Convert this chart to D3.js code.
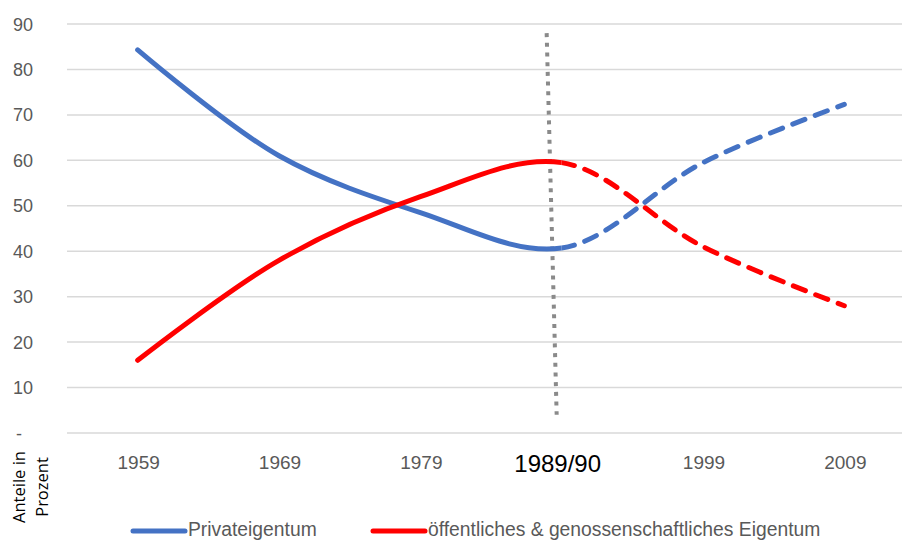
<!DOCTYPE html>
<html>
<head>
<meta charset="utf-8">
<script src="https://cdn.jsdelivr.net/npm/d3@7"></script>
<style>
  body { margin: 0; background: #fff; }
  svg { display: block; }
</style>
</head>
<body>
<div class="content"></div>
<script>
var years = ['1959', '1969', '1979', '1989/90', '1999', '2009'];
var privat = [84.3, 61, 48.5, 40.7, 59.5, 72.3];
var oeffentlich = [16, 38, 52, 59.5, 41, 28];
var yTicks = [0, 10, 20, 30, 40, 50, 60, 70, 80, 90];
var seriesNames = ['Privateigentum', 'öffentliches & genossenschaftliches Eigentum'];
var splitYear = '1989/90';
var divider = { top: 88, bottom: 4 };

var chart = {
    width: 902,
    height: 542,
    left: 67,
    right: 915,
    top: 24,
    bottom: 433,
    blue: '#4472C4',
    red: '#FF0000',
    grid: '#d9d9d9',
    text: '#595959'
};

var svg = d3.select('.content').append('svg')
    .attr('width', chart.width)
    .attr('height', chart.height);

var x = d3.scaleBand().domain(years).range([chart.left, chart.right]);
var y = d3.scaleLinear().domain([0, 90]).range([chart.bottom, chart.top]);
var cx = function(d) { return x(d) + x.bandwidth() / 2; };

// gridlines
svg.append('g').selectAll('line').data(yTicks).enter().append('line')
    .attr('x1', chart.left).attr('x2', chart.width)
    .attr('y1', function(d) { return y(d); })
    .attr('y2', function(d) { return y(d); })
    .style('stroke', chart.grid)
    .style('stroke-width', 1.5);

// y tick labels (0 shown as "-", accounting style)
svg.append('g').selectAll('text').data(yTicks).enter().append('text')
    .attr('x', function(d) { return d === 0 ? 22 : 33; })
    .attr('y', function(d) { return y(d) + 6.5; })
    .attr('text-anchor', 'end')
    .style('font-family', '"Liberation Sans", Arial, sans-serif')
    .style('font-size', '18px')
    .style('fill', chart.text)
    .text(function(d) { return d === 0 ? '-' : d; });

// x tick labels
svg.append('g').selectAll('text').data(years).enter().append('text')
    .attr('x', function(d) { return cx(d) + (d === splitYear ? -4 : 1); })
    .attr('y', function(d) { return d === splitYear ? 472 : 469; })
    .attr('text-anchor', 'middle')
    .style('font-family', '"Liberation Sans", Arial, sans-serif')
    .style('font-size', function(d) { return d === splitYear ? '24px' : '19px'; })
    .style('fill', function(d) { return d === splitYear ? '#000' : chart.text; })
    .text(function(d) { return d; });

// y axis title
var title = svg.append('text')
    .attr('transform', 'translate(25,487) rotate(-90)')
    .attr('text-anchor', 'middle')
    .style('font-family', '"Open Sans", sans-serif')
    .style('font-size', '16.5px')
    .style('fill', '#000');
title.append('tspan').attr('x', 0).attr('dy', 0).text('Anteile in');
title.append('tspan').attr('x', 0).attr('dy', 23).text('Prozent');

// clip regions for solid / dashed parts
var splitX = cx(splitYear);
var defs = svg.append('defs');
defs.append('clipPath').attr('id', 'before').append('rect')
    .attr('x', 0).attr('y', 0).attr('width', splitX).attr('height', chart.height);
defs.append('clipPath').attr('id', 'after').append('rect')
    .attr('x', splitX).attr('y', 0).attr('width', chart.width - splitX).attr('height', chart.height);

var line = d3.line()
    .x(function(d) { return cx(d.year); })
    .y(function(d) { return y(d.value); })
    .curve(d3.curveCatmullRom.alpha(0.5));

function toPoints(values) {
    return values.map(function(v, i) { return { year: years[i], value: v }; });
}

// path length up to the split x, so the dash pattern starts right at the split point
function lengthAt(node, targetX) {
    var lo = 0, hi = node.getTotalLength();
    for (var i = 0; i < 40; i++) {
        var mid = (lo + hi) / 2;
        if (node.getPointAtLength(mid).x < targetX) lo = mid; else hi = mid;
    }
    return lo;
}

var series = [
    { values: privat, color: chart.blue },
    { values: oeffentlich, color: chart.red }
];

// divider (dotted, drawn below the lines)
svg.append('line')
    .attr('x1', splitX - 15).attr('y1', y(divider.top))
    .attr('x2', splitX - 5).attr('y2', y(divider.bottom))
    .style('stroke', '#8a8a8a')
    .style('stroke-width', 4)
    .style('stroke-dasharray', '4,5.7');

series.forEach(function(s) {
    var d = line(toPoints(s.values));
    svg.append('path').attr('d', d)
        .attr('clip-path', 'url(#before)')
        .style('fill', 'none').style('stroke', s.color)
        .style('stroke-width', 5).style('stroke-linecap', 'round');
    var dashed = svg.append('path').attr('d', d)
        .attr('clip-path', 'url(#after)')
        .style('fill', 'none').style('stroke', s.color)
        .style('stroke-width', 5).style('stroke-linecap', 'round')
        .style('stroke-dasharray', '13,11');
    dashed.style('stroke-dashoffset', -lengthAt(dashed.node(), splitX));
});

// legend
var legend = [
    { name: seriesNames[0], color: chart.blue, x: 133, w: 52 },
    { name: seriesNames[1], color: chart.red, x: 373, w: 52 }
];
var lg = svg.append('g').selectAll('g').data(legend).enter().append('g');
lg.append('line')
    .attr('x1', function(d) { return d.x; })
    .attr('x2', function(d) { return d.x + d.w; })
    .attr('y1', 531).attr('y2', 531)
    .style('stroke', function(d) { return d.color; })
    .style('stroke-width', 5)
    .style('stroke-linecap', 'round');
lg.append('text')
    .attr('transform', function(d) { return 'translate(' + (d.x + d.w + 3) + ',536) scale(0.92,1)'; })
    .style('font-family', '"Liberation Sans", Arial, sans-serif')
    .style('font-size', '21px')
    .style('fill', chart.text)
    .text(function(d) { return d.name; });
</script>
</body>
</html>
